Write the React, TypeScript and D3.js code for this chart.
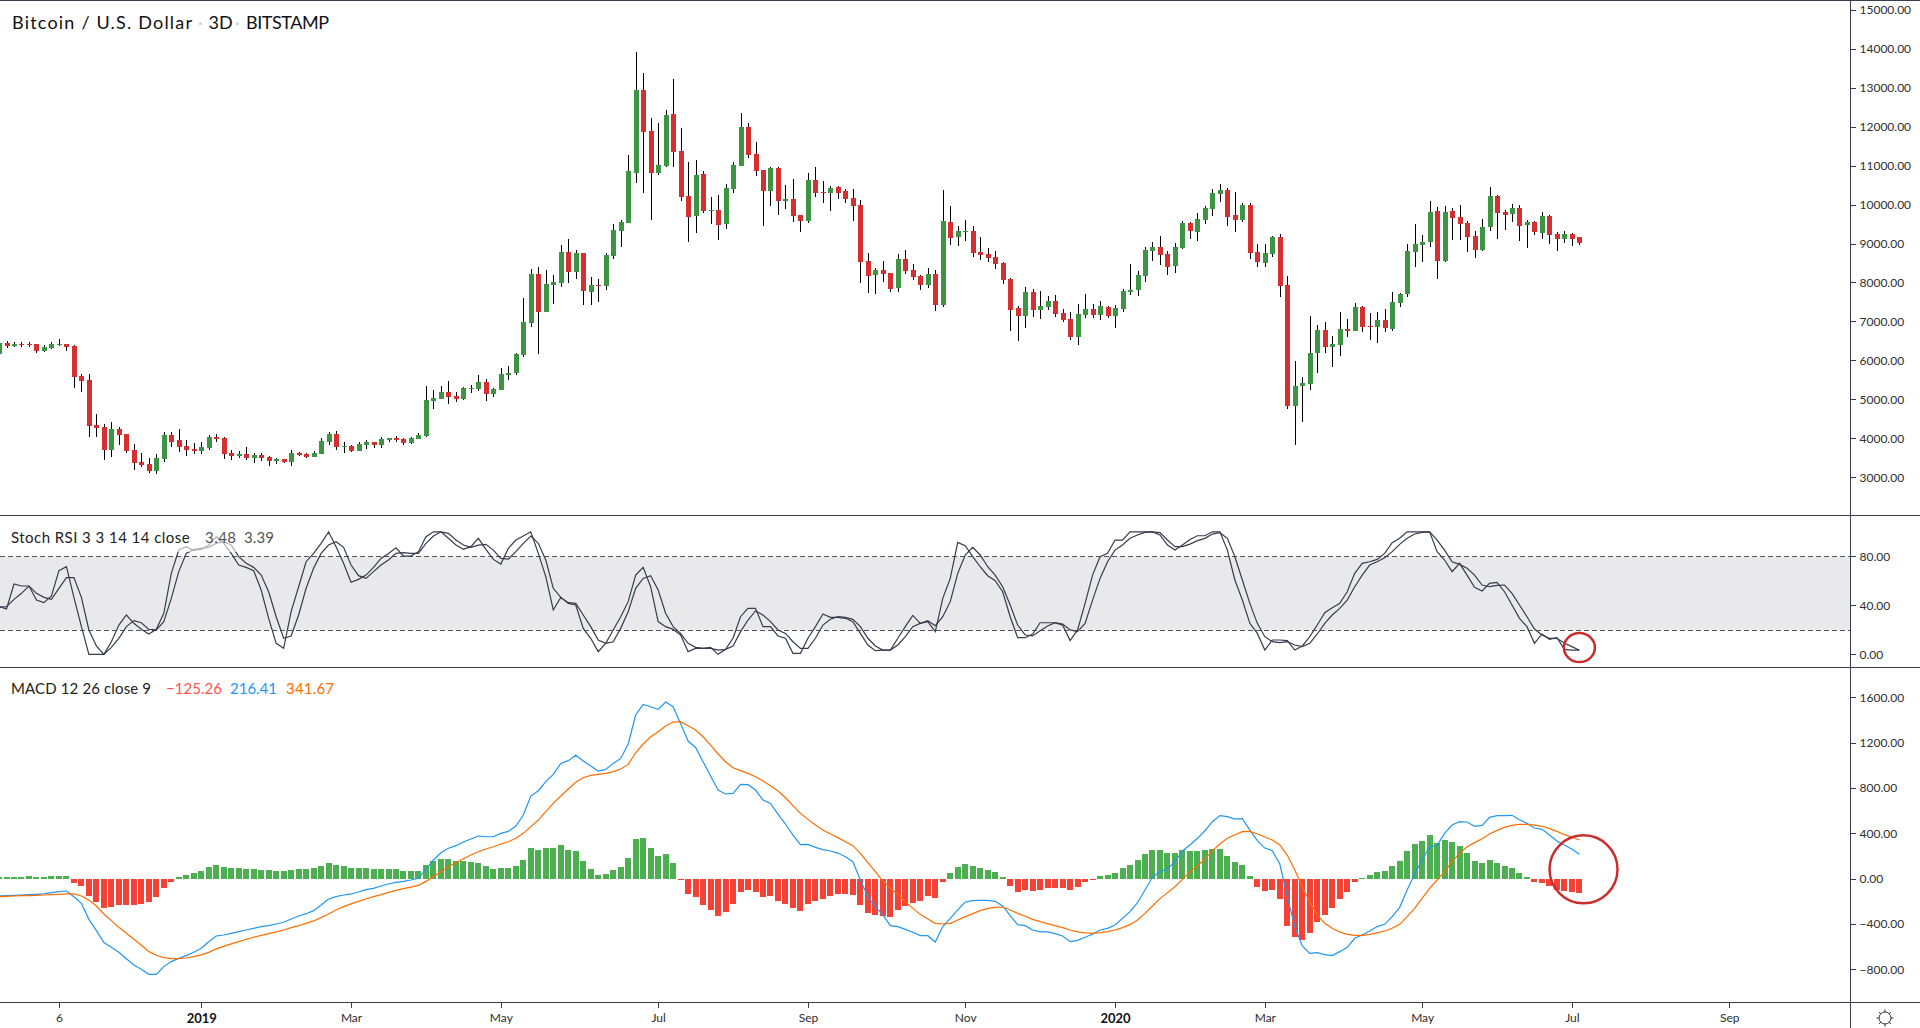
import * as d3 from "d3";
import { useEffect, useRef } from "react";

const opens = [
  6173,6438,6370,6421,6413,6413,6242,6319,6396,6413,
  6370,5600,5498,4343,4292,3702,4241,4112,3702,3394,
  3342,3163,3470,4086,3958,3804,3727,3676,3753,4035,
  4010,3625,3548,3599,3496,3573,3522,3420,3470,3394,
  3625,3599,3522,3599,3907,4112,3779,3804,3676,3830,
  3907,3830,3958,4010,3984,3881,3984,4061,4959,5010,
  5190,5087,5010,5267,5267,5446,5139,5241,5626,5677,
  6139,6960,8217,7242,7935,7987,8782,8269,8756,7756,
  7935,7910,8679,9321,9526,10809,12939,11887,10809,10989,
  12323,11374,10219,9706,10783,9834,9860,9500,10398,10989,
  11989,11297,10886,10347,10937,10090,10142,9731,9577,10629,
  10322,10296,10450,10347,10168,9988,8551,8192,8320,8243,
  7858,8602,8320,8166,7935,8217,7422,9552,9167,9295,
  9321,8782,8731,8654,8500,8089,7345,7140,7756,7294,
  7371,7525,7217,7063,6601,7165,7319,7165,7371,7140,
  7319,7756,7807,8166,8808,8910,8731,8423,8885,9526,
  9295,9603,9885,10270,10373,9731,9603,9988,8782,8500,
  8731,9167,7935,4830,5344,5395,6190,6781,6344,6396,
  6806,6755,7371,6883,6857,7037,6806,7473,7704,8782,
  8962,9039,9834,8551,9834,9680,9526,9192,8833,9423,
  10219,9808,9757,9911,9475,9552,9270,9706,9244,9115,
  9244,9167,
];
const highs = [
  6440,6490,6473,6473,6464,6420,6387,6464,6541,6420,
  6387,5652,5652,4625,4369,4420,4292,4120,3855,3625,
  3496,3599,4163,4163,4241,3958,3881,3907,4086,4112,
  4035,3702,3676,3779,3625,3625,3548,3496,3480,3702,
  3650,3625,3676,4010,4163,4189,3907,3830,3907,3958,
  3915,4035,4015,4061,4010,4035,4138,5344,5241,5344,
  5472,5190,5318,5369,5626,5523,5292,5806,5857,6190,
  7602,8346,8397,8320,8192,8962,9115,8833,8765,8140,
  8089,8756,9500,9603,11271,13914,13375,12220,12092,12426,
  13221,11964,11091,11143,10860,10193,10245,10527,11091,12349,
  12092,11604,10890,10963,10963,10501,10655,9740,10809,10963,
  10604,10475,10475,10398,10398,10116,8756,8371,8551,8250,
  8731,8833,8474,8192,8371,8320,10373,9962,9449,9603,
  9449,9167,8885,8808,8525,8115,7397,7884,7832,7781,
  7653,7679,7319,7242,7448,7704,7448,7525,7397,7422,
  7832,8474,8294,8910,9039,9192,8808,9013,9577,9552,
  9783,9962,10398,10527,10424,10322,10039,10039,8987,8987,
  9192,9244,8166,5985,5575,7140,6909,6986,6627,7242,
  7063,7473,7397,7217,7242,7319,7756,7730,8987,9500,
  9218,10090,9937,9962,9911,9988,9577,9321,9629,10450,
  10245,9860,10014,9988,9603,9577,9808,9731,9295,9321,
  9270,9170,
];
const lows = [
  6170,6327,6344,6353,6353,6199,6207,6293,6370,6250,
  5292,5198,4035,4035,3445,3522,3830,3633,3188,3265,
  3120,3086,3394,3770,3650,3548,3599,3599,3702,3907,
  3470,3445,3496,3445,3368,3420,3291,3342,3368,3291,
  3548,3496,3515,3590,3830,3702,3625,3650,3670,3727,
  3753,3753,3907,3907,3830,3855,3980,4035,4753,5005,
  4882,4933,4984,5164,5224,4959,5062,5235,5498,5626,
  6088,6857,6165,7235,7448,7884,7987,8089,7422,7422,
  7499,7807,8602,8910,9520,10552,10296,9603,10758,10963,
  10963,10090,9039,9270,9783,9500,9090,9372,10296,10980,
  11194,10732,9449,9962,9731,9885,9552,9295,9526,10193,
  10039,9834,10142,10039,9577,7987,7730,7704,8012,7756,
  7756,8217,8064,7807,7858,7268,7371,8962,8936,9064,
  8654,8577,8525,8346,7961,6755,6498,6832,7114,7063,
  7294,7114,6986,6524,6396,7089,7089,7037,7089,6832,
  7242,7679,7653,8012,8551,8448,8192,8243,8859,9115,
  9064,9500,9706,10065,9449,9295,9552,8602,8397,8397,
  8654,7627,4753,3830,4420,5241,5677,6190,5831,6114,
  6601,6750,6729,6524,6447,6729,6755,7371,7627,8397,
  8525,8910,8089,8525,9090,9090,8782,8628,8808,9321,
  9115,9346,9552,9064,8885,9218,9115,8987,8808,9013,
  8936,8962,
];
const closes = [
  6438,6379,6413,6396,6396,6242,6336,6413,6413,6344,
  5575,5472,4318,4266,3702,4241,4086,3676,3368,3317,
  3163,3496,4086,3907,3779,3702,3676,3779,4035,3984,
  3599,3548,3599,3496,3573,3496,3420,3470,3394,3625,
  3573,3522,3625,3933,4112,3779,3804,3676,3855,3907,
  3830,3984,4010,3958,3881,4010,4086,4984,5036,5190,
  5062,5010,5292,5292,5446,5139,5267,5652,5677,6165,
  6986,8217,7242,7961,8012,8782,8269,8756,7781,7935,
  7910,8705,9346,9552,10860,12939,11861,10809,11014,12297,
  11348,10193,9680,10758,9834,9860,9475,10424,11014,11989,
  11271,10860,10347,10937,10090,10142,9706,9577,10629,10296,
  10296,10424,10296,10142,9962,8525,8166,8320,8217,7832,
  8602,8294,8140,7935,8217,7422,9577,9141,9321,9321,
  8756,8705,8628,8474,8064,7294,7140,7756,7294,7397,
  7525,7191,7037,6601,7191,7319,7165,7397,7140,7345,
  7781,7807,8192,8833,8910,8705,8397,8910,9526,9321,
  9629,9911,10296,10373,9680,9603,9988,8756,8525,8756,
  9167,7910,4830,5344,5421,6190,6781,6344,6421,6806,
  6755,7371,6857,6857,7037,6832,7499,7704,8808,8987,
  9039,9808,8551,9808,9654,9500,9167,8833,9423,10219,
  9783,9731,9911,9449,9552,9295,9706,9218,9115,9244,
  9115,9013,
];

const stochK = [
  38.9,37,57.4,55.8,55.8,44.3,42.2,47.6,68.3,71.6,
  46.5,22.6,0,0,0,10.3,23.9,32.1,25.3,20.4,
  16.6,20.4,33.5,66.1,85.2,87.9,84.6,85.7,89.2,96,
  90.6,82.4,72.9,71,68.3,52.5,29.4,9,4.9,34.8,
  55.2,75.6,82.4,90.6,100,87.9,74.3,58.8,61.2,64.7,
  71,78.3,82.4,87,80.2,80.2,83.8,96,100,100,
  94.7,89.2,85.7,87.9,94.7,85.7,77.5,73.7,86.5,93.3,
  96.6,100,82.4,63.4,36.2,46.5,41.6,40.3,21.2,13.1,
  2.2,9,19.9,30.7,43,64.7,
  71,55.2,26.7,22.6,20.4,15.8,2.2,4.9,4.9,5.7,
  0,4.1,13.1,30.7,37.5,37.5,22.6,22.6,15,13.1,
  0.8,0.8,13.1,22.6,32.9,30.2,30.2,29.4,26.7,17.1,
  7.6,3,3.5,3.5,13.1,22.6,31.8,25.3,26.7,18.5,
  45.7,62,91.4,88.7,79.7,71.5,64.2,60.1,51.1,30.7,
  13.6,13.6,16.6,25.8,25.8,25.8,23.9,11.2,19.9,41.6,
  64.7,79.7,82.4,93.3,93.3,100,100,100,100,97.4,
  89.2,85.1,89.2,93.8,96.8,96.8,100,100,85.1,60.7,
  44.3,25.3,17.1,3.5,11.7,11.7,
  11.2,3.5,6.8,14.4,23.9,34,38.1,41.6,51.1,66.1,
  74.3,75.6,77.5,82.4,91.1,94.7,100,100,100,100,
  83.8,77,67.5,74.3,64.7,54.7,51.7,57.9,58.8,51.1,
  40.3,29.4,22.6,9,16.6,12.2,13.6,4.1,3.5,3.48,
];
const stochD = [
  38.4,38.9,44.9,49.8,55.8,49.8,46.5,44.9,53.9,62.6,
  62.6,46.5,19.9,6.8,0,5.7,13.1,22.6,27.5,25.8,
  20.4,19.9,26.7,45.7,67.5,82.4,85.7,86.5,87.3,90.6,
  91.9,89.2,79.7,74.3,71,64.7,51.1,30.7,13.1,15,
  32.1,53.9,70.2,82.4,89.2,91.9,87.3,72.9,64.2,62,
  67.5,72.9,77,82.4,83,82.4,82.4,90.6,96.6,100,
  98.7,93.3,89.2,87.3,89.2,89.8,85.1,78.3,77.8,83.8,
  90.6,96.6,90.6,77,53.9,46.5,42.2,41.6,32.1,22.6,
  11.7,9,10.3,21.2,34.8,53.9,
  62,64.2,52.5,33.5,22.6,17.1,9,5.7,4.9,4.9,
  3.5,4.1,6.8,18.5,28,35.4,32.1,26.7,19.9,17.1,
  10.3,4.9,4.9,13.1,23.9,28.6,30.7,30.2,28.6,22.6,
  13.1,6.8,3.5,3.5,7.6,14.4,22.6,25.3,27.5,23.4,
  30.7,43,66.1,81.1,87.3,81.1,71.5,64.7,55.2,40.3,
  23.9,15.8,15,19.3,23.1,25.8,24.8,19.9,18.5,25.3,
  44.3,62,75.6,85.1,89.2,94.7,97.4,99.6,100,99.3,
  93.3,87.9,87.9,90,92.8,94.7,98.2,99.3,94.7,79.7,
  60.7,41.6,25.3,14.4,10.3,9.5,
  10.3,7.6,6.3,9,16.6,25.3,32.1,37.5,44.3,55.2,
  64.7,72.9,75.6,78.9,83.8,89.8,94.7,98.2,99.6,100,
  93.3,85.1,75.6,73.4,70.2,64.7,56.6,55.2,56.3,56.6,
  49.8,40.3,30.7,20.7,15.8,13.1,13.1,9,6.3,3.39,
];

const macdLine = [
  -153,-150,-147,-144,-141,-138,-135,-123,-115,-109,
  -159,-218,-359,-459,-564,-606,-650,-706,-761,-800,
  -844,-844,-776,-732,-703,-679,-650,-614,-556,-506,
  -497,-482,-467,-453,-438,-423,-415,-400,-385,-356,
  -329,-309,-282,-232,-179,-159,-144,-135,-118,-97,
  -85,-65,-47,-32,-24,-12,3,85,165,229,
  268,291,323,350,376,370,370,400,417,465,
  562,729,776,856,920,1017,1041,1088,1038,994,
  950,964,1017,1061,1188,1444,
  1538,1517,1494,1558,1517,1370,1214,1158,1032,906,
  782,747,753,832,829,782,694,664,570,482,
  385,300,303,276,256,244,226,194,150,-12,
  -159,-247,-320,-415,-423,-447,-473,-503,-503,-559,
  -423,-350,-276,-206,-194,-191,-191,-200,-241,-326,
  -406,-415,-453,-470,-470,-485,-506,-556,-544,-517,
  -491,-453,-438,-409,-350,-291,-212,-100,12,62,
  85,150,244,297,356,423,503,556,547,526,
  529,429,335,270,247,129,
  -159,-423,-594,-659,-653,-670,-679,-644,-606,-526,
  -497,-462,-423,-403,-335,-253,-100,41,165,282,
  294,400,473,503,500,462,470,541,556,556,
  559,520,488,447,435,385,332,297,259,216.41,
];
const signalLine = [
  -159,-156,-153,-150,-150,-147,-144,-141,-138,-135,
  -135,-153,-188,-241,-312,-370,-429,-482,-535,-588,
  -644,-676,-697,-706,-706,-700,-688,-673,-650,-620,
  -597,-576,-556,-535,-517,-500,-485,-470,-453,-432,
  -415,-394,-373,-344,-312,-276,-247,-223,-200,-179,
  -159,-141,-121,-103,-88,-74,-59,-24,18,62,
  106,141,176,209,238,262,282,306,326,356,
  400,459,517,591,664,729,791,850,891,911,
  920,929,944,967,1008,1111,
  1188,1252,1297,1347,1382,1385,1349,1311,1252,1179,
  1100,1032,979,953,929,900,861,820,773,714,
  644,576,523,473,429,394,362,326,291,223,
  141,62,-21,-85,-138,-203,-262,-315,-356,-394,
  -400,-394,-365,-335,-309,-282,-262,-253,-250,-276,
  -306,-332,-359,-379,-397,-415,-432,-453,-470,-479,
  -482,-476,-467,-453,-432,-406,-365,-306,-241,-176,
  -123,-71,-6,59,112,173,247,306,356,388,
  415,417,394,368,341,297,
  206,76,-71,-203,-320,-394,-438,-470,-491,-500,
  -500,-491,-479,-462,-438,-403,-335,-262,-173,-85,
  -12,62,150,223,282,318,353,394,426,453,
  470,479,479,473,462,441,417,388,365,341.67,
];
const macdHist = [
  12,12,12,12,24,12,12,24,24,24,
  -35,-65,-153,-206,-259,-250,-232,-232,-232,-223,
  -206,-162,-82,-29,15,32,50,68,103,121,
  103,94,94,85,85,76,76,68,68,76,
  85,85,94,112,138,121,112,94,94,94,
  85,85,85,85,68,68,68,121,156,173,
  173,156,156,147,138,112,85,94,94,112,
  165,270,253,270,270,297,253,244,156,85,
  32,41,76,103,182,350,
  359,270,200,218,138,-12,-135,-162,-232,-276,
  -329,-294,-223,-118,-100,-118,-162,-153,-197,-223,
  -259,-285,-223,-197,-179,-153,-135,-135,-144,-232,
  -303,-320,-329,-338,-276,-241,-215,-197,-153,-171,
  -29,50,103,129,112,94,76,59,15,-65,
  -118,-100,-109,-100,-82,-82,-82,-100,-74,-29,
  -12,24,32,50,94,121,165,218,253,253,
  226,226,253,244,244,253,262,262,200,147,
  121,24,-74,-109,-100,-179,
  -417,-515,-541,-479,-382,-320,-259,-179,-118,-29,
  6,32,59,68,112,156,244,306,332,385,
  315,341,323,288,226,156,138,165,138,112,
  94,50,15,-29,-38,-65,-100,-109,-118,-125.26,
];

const priceTicks = d3.range(3000, 15001, 1000);
const stochTicks = [0, 40, 80];
const macdTicks = [-800, -400, 0, 400, 800, 1200, 1600];
const timeTickIndex = [8, 27, 47, 67, 88, 108, 129, 149, 169, 190, 210, 231];
const timeTickLabels = ["6", "2019", "Mar", "May", "Jul", "Sep", "Nov", "2020", "Mar", "May", "Jul", "Sep"];

const FONT = "Lato, 'Open Sans', sans-serif";
const BORDER = "#363c4e";
const UP = "#3d9443";
const DOWN = "#d62f2f";

export default function App() {
  const ref = useRef<SVGSVGElement | null>(null);

  useEffect(() => {
    const svg = d3.select(ref.current);
    svg.selectAll("*").remove();

    const x = d3.scaleLinear().domain([0, 231]).range([-0.98, 1729.21]);
    const yPrice = d3.scaleLinear().domain([3000, 15000]).range([477.33, 9.67]);
    const yStoch = d3.scaleLinear().domain([0, 80]).range([654.33, 556.33]);
    const yMacd = d3.scaleLinear().domain([-800, 1600]).range([969.33, 697.33]);
    const px = (i: number) => Math.round(x(i));
    const idx = d3.range(opens.length);

    // candles
    const candles = svg.append("g").attr("shape-rendering", "crispEdges");
    candles
      .selectAll("line")
      .data(idx)
      .enter()
      .append("line")
      .attr("x1", (i) => px(i) + 0.5)
      .attr("x2", (i) => px(i) + 0.5)
      .attr("y1", (i) => yPrice(highs[i]))
      .attr("y2", (i) => yPrice(lows[i]))
      .attr("stroke", "#000");
    candles
      .selectAll("rect")
      .data(idx)
      .enter()
      .append("rect")
      .attr("x", (i) => px(i) - 2)
      .attr("width", 5)
      .attr("y", (i) => yPrice(Math.max(opens[i], closes[i])))
      .attr("height", (i) => Math.max(1, Math.abs(yPrice(opens[i]) - yPrice(closes[i]))))
      .attr("fill", (i) => (closes[i] >= opens[i] ? UP : DOWN));

    // stoch band
    svg
      .append("rect")
      .attr("x", 0)
      .attr("width", 1850)
      .attr("y", yStoch(80))
      .attr("height", yStoch(20) - yStoch(80))
      .attr("fill", "#e9e9eb");
    [80, 20].forEach((v) => {
      svg
        .append("line")
        .attr("x1", 0)
        .attr("x2", 1850)
        .attr("y1", Math.round(yStoch(v)) + 0.5)
        .attr("y2", Math.round(yStoch(v)) + 0.5)
        .attr("stroke", "#555")
        .attr("stroke-dasharray", "5,3");
    });
    const stochPath = d3
      .line<number>()
      .x((_, i) => x(i))
      .y((d) => yStoch(d));
    [stochK, stochD].forEach((s) => {
      svg
        .append("path")
        .attr("d", stochPath(s))
        .attr("fill", "none")
        .attr("stroke", BORDER)
        .attr("stroke-width", 1.2);
    });

    // macd histogram
    svg
      .append("g")
      .attr("shape-rendering", "crispEdges")
      .selectAll("rect")
      .data(idx)
      .enter()
      .append("rect")
      .attr("x", (i) => px(i) - 3)
      .attr("width", 6)
      .attr("y", (i) => Math.min(yMacd(macdHist[i]), yMacd(0)))
      .attr("height", (i) => Math.abs(yMacd(macdHist[i]) - yMacd(0)))
      .attr("fill", (i) => (macdHist[i] >= 0 ? "#4caf50" : "#f44336"));
    const macdPath = d3
      .line<number>()
      .x((_, i) => x(i))
      .y((d) => yMacd(d));
    svg
      .append("path")
      .attr("d", macdPath(macdLine))
      .attr("fill", "none")
      .attr("stroke", "#2196f3")
      .attr("stroke-width", 1.2);
    svg
      .append("path")
      .attr("d", macdPath(signalLine))
      .attr("fill", "none")
      .attr("stroke", "#ff6d00")
      .attr("stroke-width", 1.2);

    // hand drawn circles
    svg
      .append("ellipse")
      .attr("cx", x(211))
      .attr("cy", yStoch(5.5))
      .attr("rx", 15.5)
      .attr("ry", 14.5)
      .attr("fill", "none")
      .attr("stroke", "#cb2c2c")
      .attr("stroke-width", 2.5);
    svg
      .append("ellipse")
      .attr("cx", x(211.55))
      .attr("cy", yMacd(82))
      .attr("rx", 34)
      .attr("ry", 34)
      .attr("fill", "none")
      .attr("stroke", "#cb2c2c")
      .attr("stroke-width", 2.5);

    // frame
    const frame = svg.append("g").attr("shape-rendering", "crispEdges").attr("stroke", BORDER);
    [0.5, 515.5, 667.5, 1002.5].forEach((y) => {
      frame.append("line").attr("x1", 0).attr("x2", 1920).attr("y1", y).attr("y2", y);
    });
    frame.append("line").attr("x1", 1850.5).attr("x2", 1850.5).attr("y1", 0).attr("y2", 1028);

    // axes
    const styleAxis = (g: any) => {
      g.select(".domain").remove();
      g.selectAll("line").attr("stroke", BORDER).attr("shape-rendering", "crispEdges");
      g.selectAll("text")
        .attr("fill", "#2e2e2e")
        .style("font-family", FONT)
        .style("font-size", "12px");
    };
    const fmt = d3.format(".2f");
    const right = (scale: any, ticks: number[]) =>
      d3.axisRight(scale).tickValues(ticks).tickSize(5).tickPadding(4).tickFormat((d: any) => fmt(d));
    svg.append("g").attr("transform", "translate(1850.5,0)").call(right(yPrice, priceTicks)).call(styleAxis);
    svg.append("g").attr("transform", "translate(1850.5,0)").call(right(yStoch, stochTicks)).call(styleAxis);
    svg.append("g").attr("transform", "translate(1850.5,0)").call(right(yMacd, macdTicks)).call(styleAxis);

    const axisX = svg
      .append("g")
      .attr("transform", "translate(0,1002.5)")
      .call(
        d3
          .axisBottom(x)
          .tickValues(timeTickIndex)
          .tickSize(5)
          .tickPadding(6)
          .tickFormat((_, i) => timeTickLabels[i]),
      )
      .call(styleAxis);
    axisX
      .selectAll("text")
      .filter((_, i) => /^\d{4}$/.test(timeTickLabels[i]))
      .style("font-size", "13px")
      .style("font-weight", 700)
      .attr("fill", "#111");

    // legends
    svg
      .append("rect")
      .attr("x", 0)
      .attr("y", 528)
      .attr("width", 278)
      .attr("height", 24)
      .attr("fill", "#fff")
      .attr("opacity", 0.6);
    const label = (t: string, lx: number, ly: number, size: number, fill: string, w?: number) => {
      const node = svg
        .append("text")
        .attr("x", lx)
        .attr("y", ly)
        .attr("dominant-baseline", "central")
        .style("font-family", FONT)
        .style("font-size", `${size}px`)
        .attr("fill", fill)
        .text(t);
      if (w) node.attr("textLength", w).attr("lengthAdjust", "spacing");
    };
    label("Bitcoin / U.S. Dollar", 12, 22, 18, "#111", 180);
    label("·", 198, 22, 18, "#c9cbd0");
    label("3D", 208.5, 22, 18, "#111");
    label("·", 235, 22, 18, "#c9cbd0");
    label("BITSTAMP", 246, 22, 18, "#111", 83);
    label("Stoch RSI 3 3 14 14 close", 11, 536.5, 15, "#222", 178.6);
    label("3.48", 205, 536.5, 15, "#555", 31);
    label("3.39", 244, 536.5, 15, "#555", 30);
    label("MACD 12 26 close 9", 11, 688, 15, "#222", 140);
    label(fmt(macdHist[macdHist.length - 1]), 166, 688, 15, "#ff5252", 56);
    label(fmt(macdLine[macdLine.length - 1]), 230, 688, 15, "#2196f3", 47);
    label(fmt(signalLine[signalLine.length - 1]), 286, 688, 15, "#ff6d00", 48);

    // settings icon
    const gear = svg.append("g").attr("transform", "translate(1885,1018)").attr("stroke", "#2e3340").attr("fill", "none");
    gear.append("circle").attr("r", 6);
    d3.range(8).forEach((i) => {
      const a = (i * Math.PI) / 4;
      gear
        .append("line")
        .attr("x1", 6 * Math.cos(a))
        .attr("y1", 6 * Math.sin(a))
        .attr("x2", 8.5 * Math.cos(a))
        .attr("y2", 8.5 * Math.sin(a));
    });
  }, []);

  return (
    <svg
      ref={ref}
      width={1920}
      height={1028}
      style={{ position: "absolute", left: 0, top: 0, background: "#fff" }}
    ></svg>
  );
}
